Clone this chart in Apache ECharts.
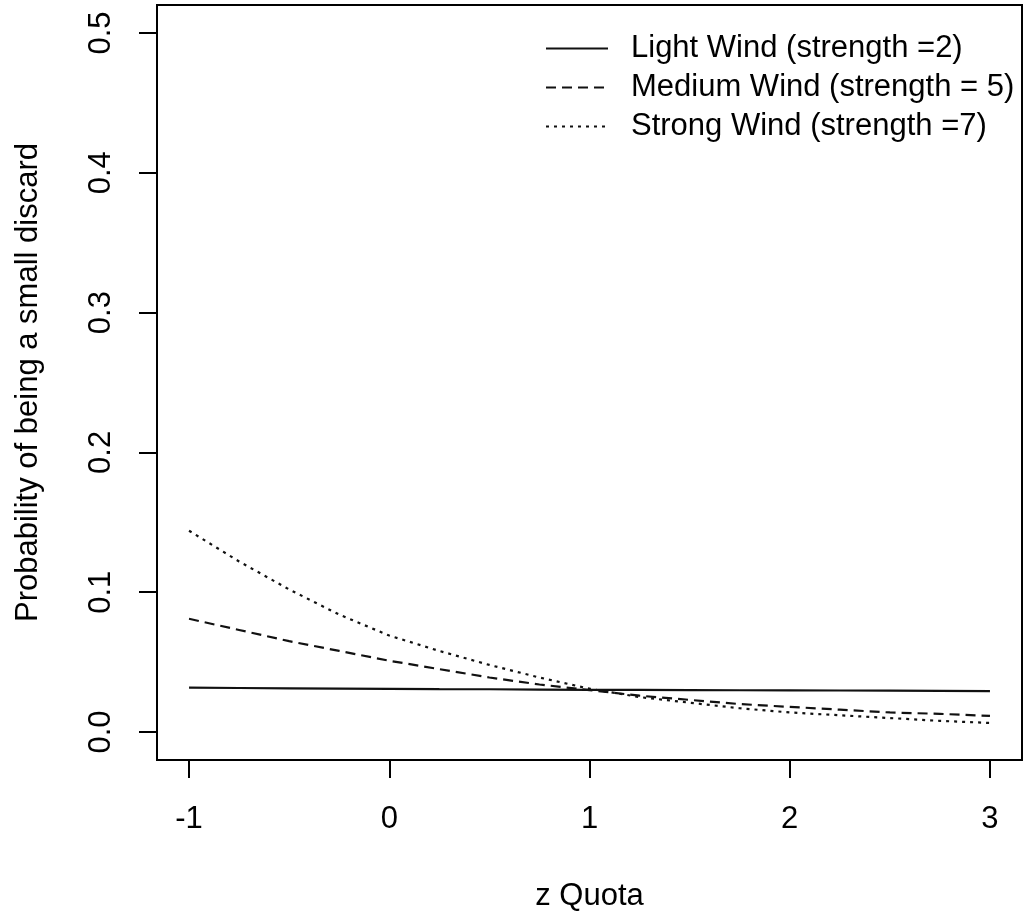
<!DOCTYPE html>
<html>
<head>
<meta charset="utf-8">
<script src="https://cdn.jsdelivr.net/npm/echarts@6/dist/echarts.min.js"></script>
<style>
  html, body { margin: 0; padding: 0; background: #fff; }
  #chart { width: 1026px; height: 917px; }
</style>
</head>
<body>
<div id="chart"></div>
<script>
const zQuota = [-1, -0.75, -0.5, -0.25, 0, 0.25, 0.5, 0.75, 1, 1.25, 1.5, 1.75, 2, 2.25, 2.5, 2.75, 3];
const lightWind  = [0.0317, 0.0315, 0.0313, 0.0311, 0.0309, 0.0307, 0.0306, 0.0304, 0.0302, 0.0301, 0.0300, 0.0299, 0.0298, 0.0297, 0.0296, 0.0294, 0.0292];
const mediumWind = [0.081, 0.073, 0.065, 0.058, 0.051, 0.045, 0.039, 0.034, 0.030, 0.026, 0.023, 0.020, 0.018, 0.016, 0.014, 0.013, 0.0115];
const strongWind = [0.144, 0.122, 0.102, 0.084, 0.069, 0.058, 0.048, 0.039, 0.031, 0.025, 0.021, 0.017, 0.014, 0.012, 0.010, 0.008, 0.0065];
const xTicks = [-1, 0, 1, 2, 3];
const yTicks = [0, 0.1, 0.2, 0.3, 0.4, 0.5];
const seriesNames = ['Light Wind (strength =2)', 'Medium Wind (strength = 5)', 'Strong Wind (strength =7)'];

const pairs = ys => zQuota.map((x, i) => [x, ys[i]]);
const FONT = 'Liberation Sans, Arial, sans-serif';

const chart = echarts.init(document.getElementById('chart'), null, { renderer: 'canvas' });
chart.setOption({
  backgroundColor: '#ffffff',
  animation: false,
  grid: {
    left: 157, right: 4, top: 5, bottom: 156,
    show: true, borderColor: '#000', borderWidth: 2, backgroundColor: 'transparent'
  },
  legend: {
    orient: 'vertical',
    left: 540, top: 28,
    itemWidth: 62, itemHeight: 20, itemGap: 8,
    itemStyle: { opacity: 0 },
    textStyle: { fontFamily: FONT, fontSize: 31, color: '#000', padding: [0, 0, 0, 18], lineHeight: 31 },
    data: seriesNames
  },
  xAxis: {
    type: 'value', min: -1.16, max: 3.16,
    name: 'z Quota', nameLocation: 'middle', nameGap: 121,
    nameTextStyle: { fontFamily: FONT, fontSize: 31, color: '#000' },
    axisLine: { show: false, onZero: false },
    axisTick: { show: true, inside: false, length: 18, customValues: xTicks, lineStyle: { color: '#000', width: 2 } },
    axisLabel: { customValues: xTicks, margin: 44, fontFamily: FONT, fontSize: 31, color: '#000',
      formatter: v => String(v) },
    splitLine: { show: false }
  },
  yAxis: {
    type: 'value', min: -0.02, max: 0.52,
    name: 'Probability of being a small discard', nameLocation: 'middle', nameGap: 113, nameRotate: 90,
    nameTextStyle: { fontFamily: FONT, fontSize: 31, color: '#000' },
    axisLine: { show: false, onZero: false },
    axisTick: { show: true, inside: false, length: 18, customValues: yTicks, lineStyle: { color: '#000', width: 2 } },
    axisLabel: { customValues: yTicks, rotate: 90, margin: 40, fontFamily: FONT, fontSize: 31, color: '#000',
      formatter: v => v.toFixed(1) },
    splitLine: { show: false }
  },
  series: [
    { name: seriesNames[0], type: 'line', data: pairs(lightWind), showSymbol: false, symbol: 'none',
      lineStyle: { color: '#111', width: 2.2, type: 'solid' }, itemStyle: { color: '#000' } },
    { name: seriesNames[1], type: 'line', data: pairs(mediumWind), showSymbol: false, symbol: 'none',
      lineStyle: { color: '#111', width: 2.2, type: [10, 6] }, itemStyle: { color: '#000' } },
    { name: seriesNames[2], type: 'line', data: pairs(strongWind), showSymbol: false, symbol: 'none',
      lineStyle: { color: '#111', width: 2.2, type: [3, 5] }, itemStyle: { color: '#000' } }
  ]
});
</script>
</body>
</html>
